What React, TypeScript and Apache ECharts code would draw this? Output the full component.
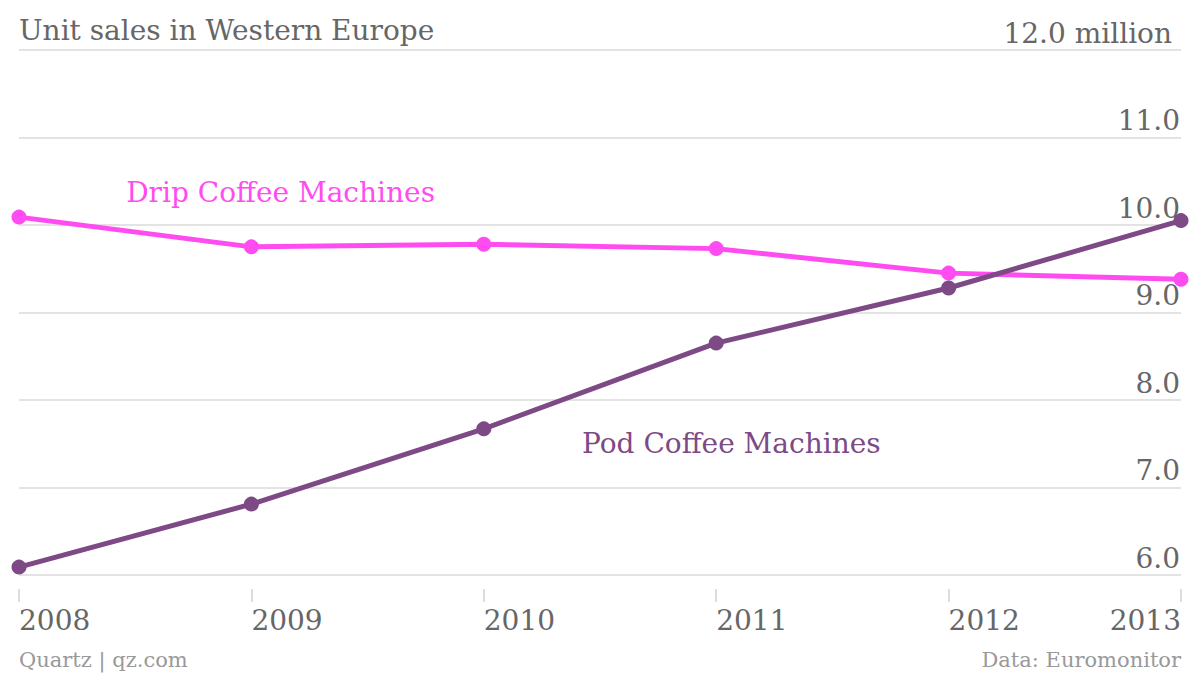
import React, { useEffect, useRef } from "react";
import * as echarts from "echarts";

const years = ["2008", "2009", "2010", "2011", "2012", "2013"];
const dripValues = [10.09, 9.75, 9.78, 9.73, 9.45, 9.38];
const podValues = [6.09, 6.81, 7.67, 8.65, 9.28, 10.05];
const yTicks = [6, 7, 8, 9, 10, 11, 12];

const FONT = "DejaVu Serif";
const DRIP = "#ff4cf0";
const POD = "#7d4a86";

export default function App() {
  const ref = useRef<HTMLDivElement>(null);
  useEffect(() => {
    const chart = echarts.init(ref.current!, null, { renderer: "svg" });
    chart.setOption({
      animation: false,
      backgroundColor: "#ffffff",
      textStyle: { fontFamily: FONT },
      grid: { left: 19, right: 19, top: 50, bottom: 99, containLabel: false },
      xAxis: {
        type: "category",
        data: years,
        boundaryGap: false,
        offset: 14,
        axisLine: { show: false },
        axisTick: { show: true, length: 13, inside: false, lineStyle: { color: "#dddddd", width: 2 } },
        axisLabel: {
          fontFamily: FONT,
          fontSize: 28,
          color: "#666666",
          align: "left",
          alignMaxLabel: "right",
          margin: 17,
        },
        splitLine: { show: false },
      },
      yAxis: {
        type: "value",
        position: "right",
        min: yTicks[0],
        max: yTicks[yTicks.length - 1],
        interval: 1,
        axisLine: { show: false },
        axisTick: { show: false },
        splitLine: { lineStyle: { color: "#e3e3e3", width: 2 } },
        axisLabel: {
          inside: true,
          margin: 1,
          fontFamily: FONT,
          fontSize: 28,
          color: "#666666",
          verticalAlign: "bottom",
          padding: [0, 0, 3, 0],
          formatter: (v: number) => (v === 12 ? "{m|12.0 million}" : v.toFixed(1)),
          rich: {
            m: { fontFamily: FONT, fontSize: 28, color: "#666666", padding: [0, 8, 0, 0] },
          },
        },
      },
      series: [
        {
          name: "Drip Coffee Machines",
          type: "line",
          data: dripValues,
          symbol: "circle",
          symbolSize: 15,
          itemStyle: { color: DRIP },
          lineStyle: { color: DRIP, width: 5 },
          z: 2,
        },
        {
          name: "Pod Coffee Machines",
          type: "line",
          data: podValues,
          symbol: "circle",
          symbolSize: 15,
          itemStyle: { color: POD },
          lineStyle: { color: POD, width: 5 },
          z: 3,
        },
      ],
      graphic: [
        {
          type: "text",
          left: 19,
          top: 16,
          style: { text: "Unit sales in Western Europe", fontFamily: FONT, fontSize: 28, fill: "#666666" },
        },
        {
          type: "text",
          right: 765,
          top: 178,
          style: { text: "Drip Coffee Machines", fontFamily: FONT, fontSize: 28, fill: DRIP },
        },
        {
          type: "text",
          left: 582,
          top: 429,
          style: { text: "Pod Coffee Machines", fontFamily: FONT, fontSize: 28, fill: POD },
        },
        {
          type: "text",
          left: 19,
          top: 649,
          style: { text: "Quartz | qz.com", fontFamily: FONT, fontSize: 21, fill: "#999999" },
        },
        {
          type: "text",
          right: 19,
          top: 649,
          style: { text: "Data: Euromonitor", fontFamily: FONT, fontSize: 21, fill: "#999999" },
        },
      ],
    });
    return () => chart.dispose();
  }, []);
  return <div ref={ref} style={{ width: 1200, height: 674, position: "fixed", left: 0, top: 0 }} />;
}
